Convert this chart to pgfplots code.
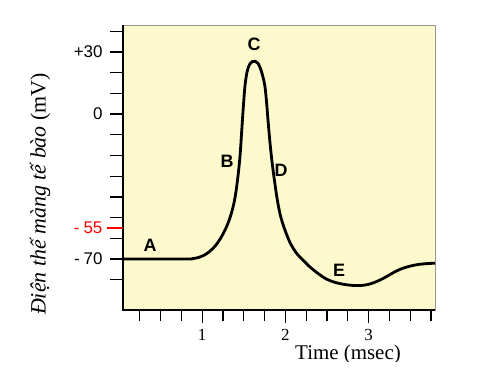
\documentclass[border=0pt]{standalone}
\usepackage{fontspec}
\setmainfont{Liberation Serif}
\newfontfamily\arial{Liberation Sans}
\usepackage{pgfplots}
\pgfplotsset{compat=1.18}
\definecolor{bgyellow}{RGB}{252,249,204}
\definecolor{framegray}{RGB}{150,150,150}
\begin{document}
\begin{tikzpicture}[x=1bp,y=1bp]
\useasboundingbox (0,0) rectangle (501,371);
\begin{axis}[
  at={(123bp,61bp)}, anchor=south west,
  scale only axis, width=312bp, height=285bp,
  xmin=0.048, xmax=3.798, ymin=-94.6, ymax=43.0,
  clip=false,
  axis background/.style={fill=bgyellow},
  axis line style={framegray, line width=0.8bp},
  tick align=outside,
  xtick pos=lower, ytick pos=left,
  tick style={black, line width=1.3bp},
  major tick length=13bp,
  minor tick length=11bp,
  xtick={1,2,3},
  xticklabels={1,2,3},
  minor xtick={0.25,0.5,0.75,1.25,1.5,1.75,2.25,2.5,2.75,3.25,3.5,3.75},
  xticklabel style={font=\fontsize{17}{17}\selectfont, yshift=-3bp},
  ytick={-80,-70,-60,-50,-40,-30,-20,-10,0,10,20,30,40},
  yticklabels={{},{-\hspace{4bp}70},{},{},{},{},{},{},{0},{},{},{+30},{}},
  yticklabel style={font=\arial\fontsize{17}{17}\selectfont, xshift=-4bp},
]
\addplot[black, line width=2.8bp, smooth, tension=0.55] coordinates {
(0.048,-70) (0.80,-70) (0.88,-69.8) (0.95,-69.3) (1.02,-68.2) (1.09,-66.3)
(1.16,-63.5) (1.22,-60) (1.28,-55.5) (1.33,-50.5) (1.37,-45) (1.40,-39)
(1.43,-30) (1.455,-20) (1.475,-8) (1.495,4) (1.515,14) (1.54,20.5)
(1.57,24) (1.60,25.3) (1.635,25.5) (1.67,24.5) (1.70,22) (1.73,18)
(1.755,13) (1.775,5) (1.795,-5) (1.82,-16) (1.845,-25) (1.875,-34)
(1.905,-42) (1.94,-49) (1.99,-55.5) (2.055,-62) (2.13,-67) (2.21,-70.5)
(2.3,-74) (2.4,-77.2) (2.5,-79.8) (2.6,-81.3) (2.7,-82.2) (2.8,-82.7)
(2.9,-82.8) (3.0,-82.2) (3.1,-80.8) (3.2,-78.8) (3.3,-76.5) (3.4,-74.6)
(3.5,-73.4) (3.6,-72.6) (3.7,-72.2) (3.798,-72)
};
\draw[black, line width=1.3bp] (rel axis cs:0,1) -- (rel axis cs:0,0) -- (rel axis cs:1,0);
\draw[red, line width=1.3bp] (axis cs:0.048,-55) -- ([xshift=-16bp]axis cs:0.048,-55) node[left, text=red, font=\arial\fontsize{17}{17}\selectfont, inner sep=2bp, xshift=-2bp] {-\hspace{4bp}55};
\begin{scope}[font=\arial\bfseries\fontsize{18}{18}\selectfont]
\node at (axis cs:0.373,-63.2) {A};
\node at (axis cs:1.298,-22.7) {B};
\node at (axis cs:1.623,33.9) {C};
\node at (axis cs:1.947,-27) {D};
\node at (axis cs:2.644,-75.3) {E};
\end{scope}
\end{axis}
\node[rotate=90, font=\fontsize{22}{22}\selectfont] at (40,177) {\textit{Điện thế màng tế bào} (mV)};
\begin{scope}
\clip (0,10) rectangle (501,371);
\node[anchor=north, inner sep=0pt, font=\fontsize{21}{21}\selectfont] at (348,26) {Time (msec)};
\end{scope}
\end{tikzpicture}
\end{document}
